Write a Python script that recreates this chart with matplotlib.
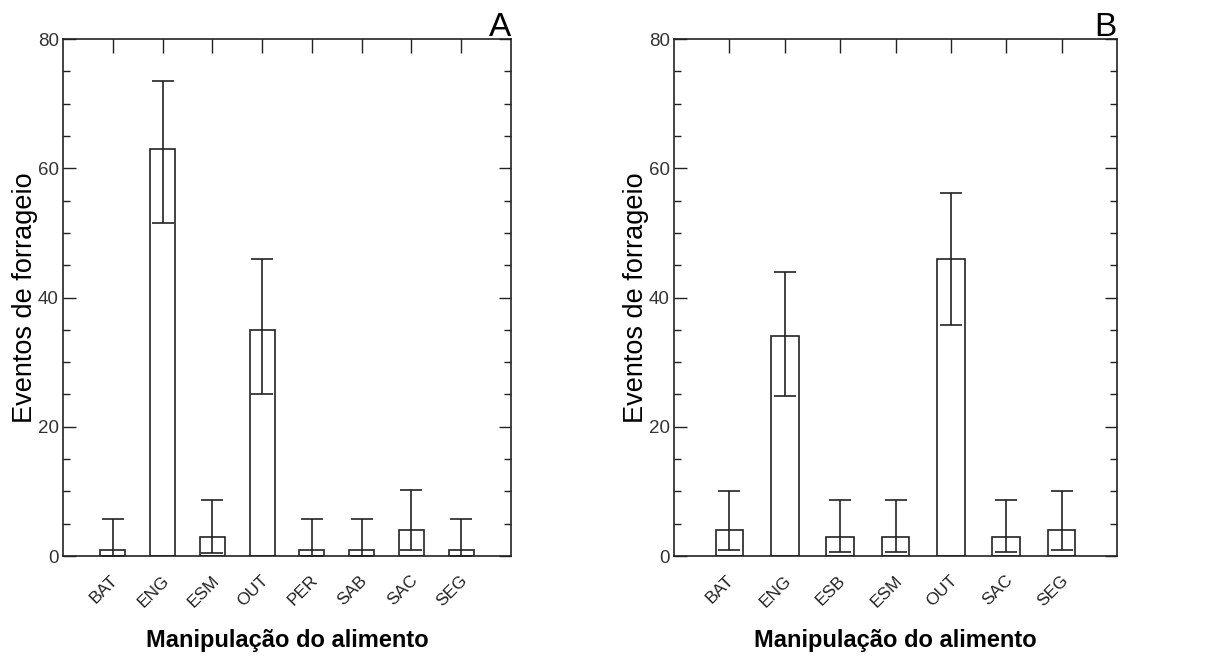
import numpy as np
import matplotlib
matplotlib.use("Agg")
import matplotlib.pyplot as plt
import matplotlib.transforms as mtransforms

plt.rcParams['font.family'] = ['Liberation Sans', 'DejaVu Sans']

# panel A
cats_a = ["BAT", "ENG", "ESM", "OUT", "PER", "SAB", "SAC", "SEG"]
vals_a = [1, 63, 3, 35, 1, 1, 4, 1]
upper_a = [5.7, 73.5, 8.7, 45.9, 5.7, 5.7, 10.2, 5.7]
lower_a = [0.0, 51.5, 0.4, 25.1, 0.0, 0.0, 1.0, 0.0]

# panel B
cats_b = ["BAT", "ENG", "ESB", "ESM", "OUT", "SAC", "SEG"]
vals_b = [4, 34, 3, 3, 46, 3, 4]
upper_b = [10.0, 44.0, 8.7, 8.7, 56.2, 8.7, 10.0]
lower_b = [1.0, 24.7, 0.6, 0.6, 35.7, 0.6, 1.0]

LC = "#222222"

fig = plt.figure(figsize=(12.06, 6.57), dpi=100)
ax_a = fig.add_axes([0.0522, 0.1537, 0.3715, 0.7869])
ax_b = fig.add_axes([0.5589, 0.1537, 0.3673, 0.7869])


def panel(ax, cats, vals, lo, hi, letter):
    x = np.arange(1, len(cats) + 1)
    v = np.array(vals, dtype=float)
    yerr = [v - np.array(lo), np.array(hi) - v]
    ax.bar(x, v, width=0.5, color="white", edgecolor=LC, lw=1.2, zorder=2)
    ax.errorbar(x, v, yerr=yerr, fmt="none", ecolor=LC, elinewidth=1.2,
                capsize=8, capthick=1.2, zorder=3)
    ax.set_xlim(0, len(cats) + 1)
    ax.set_ylim(0, 80)
    ax.set_yticks([0, 20, 40, 60, 80])
    ax.set_yticks(np.arange(0, 81, 5), minor=True)
    ax.tick_params(axis="y", which="major", direction="in", length=9,
                   width=1, color=LC, right=True, labelsize=13.5,
                   labelcolor="#333333", pad=3)
    ax.tick_params(axis="y", which="minor", direction="in", length=5,
                   width=1, color=LC, right=True)
    ax.set_xticks(x)
    ax.set_xticklabels(cats, rotation=45, ha="center", fontsize=12.5)
    ax.tick_params(axis="x", direction="in", length=0, pad=12,
                   labelcolor="#222222")
    off = mtransforms.ScaledTranslation(-9 / 100, 0, fig.dpi_scale_trans)
    for lab in ax.get_xticklabels():
        lab.set_transform(lab.get_transform() + off)
    # top ticks at category positions
    sec = ax.secondary_xaxis("top")
    sec.set_xticks(x)
    sec.set_xticklabels([])
    sec.tick_params(direction="in", length=10, width=1, color=LC)
    sec.spines["top"].set_visible(False)
    for s in ax.spines.values():
        s.set_color(LC)
        s.set_linewidth(1.2)
    ax.set_ylabel("Eventos de forrageio", fontsize=19.5, labelpad=0)
    ax.set_xlabel("Manipulação do alimento", fontsize=17, fontweight="bold",
                  labelpad=14)
    ax.text(1.0, 1.006, letter, transform=ax.transAxes, ha="right",
            va="baseline", fontsize=24, color="black")


panel(ax_a, cats_a, vals_a, lower_a, upper_a, "A")
panel(ax_b, cats_b, vals_b, lower_b, upper_b, "B")

fig.savefig("out.png", dpi=100)
